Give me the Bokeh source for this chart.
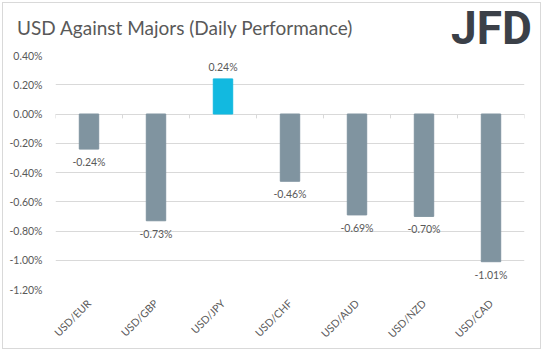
import math
from bokeh.plotting import figure
from bokeh.layouts import column
from bokeh.models import (ColumnDataSource, FixedTicker, PrintfTickFormatter, Range1d, Div)
from bokeh.core.properties import value
from bokeh.embed import file_html
from bokeh.resources import INLINE

pairs = ["USD/EUR", "USD/GBP", "USD/JPY", "USD/CHF", "USD/AUD", "USD/NZD", "USD/CAD"]
changes = [-0.24, -0.73, 0.24, -0.46, -0.69, -0.70, -1.01]
y_ticks = [-1.2, -1.0, -0.8, -0.6, -0.4, -0.2, 0.0, 0.2, 0.4]
title_text = "USD Against Majors (Daily Performance)"
logo_text = "JFD"

POS = "#12B9E0"
NEG = "#8094A0"
TXT = "#595959"
GRID = "#D9D9D9"
W = 537

# ---- header: title and logo as real text ----
header_html = (
    '<div style="position:relative;width:%dpx;height:42px;overflow:visible;">'
    '<span style="position:absolute;left:14px;top:15px;white-space:nowrap;'
    'font-family:Lato;font-size:19px;line-height:19px;color:%s;">%s</span>'
    '<span style="position:absolute;left:448px;top:2px;white-space:nowrap;'
    'font-family:Roboto;font-weight:bold;font-size:46px;line-height:46px;'
    'color:#3B4048;">%s</span></div>' % (W, TXT, title_text, logo_text)
)
head = Div(text=header_html, width=W, height=42, margin=0)

# ---- main chart ----
src = ColumnDataSource(dict(
    pair=pairs,
    change=changes,
    color=[POS if v > 0 else NEG for v in changes],
    label=["%.2f%%" % v for v in changes],
    base=["bottom" if v > 0 else "top" for v in changes],
    yoff=[-6 if v > 0 else 7 for v in changes],
))

p = figure(x_range=pairs, y_range=Range1d(-1.2, 0.4), width=W, height=303,
           output_backend="svg", toolbar_location=None,
           min_border_left=52, min_border_right=16, min_border_top=10,
           min_border_bottom=59, margin=0)
p.outline_line_color = None

p.vbar(x="pair", top="change", bottom=0, width=0.29, color="color", source=src)
p.text(x="pair", y="change", text="label", text_baseline="base", y_offset="yoff",
       text_align="center", text_font_size="10.5px", text_color=TXT,
       text_font=value("Lato"), source=src)

bounds_x = [(c, -0.5) for c in pairs] + [(pairs[-1], 0.5)]
p.segment(x0=bounds_x, x1=bounds_x, y0=[0] * len(bounds_x),
          y1=[-0.03] * len(bounds_x), line_color=GRID, line_width=1)

p.yaxis.ticker = FixedTicker(ticks=y_ticks)
p.yaxis.formatter = PrintfTickFormatter(format="%.2f%%")
p.yaxis.axis_line_color = None
p.yaxis.major_tick_line_color = None
p.yaxis.minor_tick_line_color = None
p.yaxis.major_label_standoff = 7
p.yaxis.major_label_text_font_size = "10.5px"
p.yaxis.major_label_text_color = TXT
p.yaxis.major_label_text_font = "Lato"

p.xaxis.axis_line_color = None
p.xaxis.major_tick_line_color = None
p.xaxis.minor_tick_line_color = None
p.xaxis.major_label_orientation = math.pi / 4
p.xaxis.major_label_standoff = 6
p.xaxis.major_label_text_font_size = "10.5px"
p.xaxis.major_label_text_color = TXT
p.xaxis.major_label_text_font = "Lato"

p.xgrid.grid_line_color = None
p.ygrid.grid_line_color = GRID
p.ygrid.ticker = FixedTicker(ticks=y_ticks)

layout = column(head, p, spacing=0, margin=(2, 2, 2, 2),
                styles={"border": "1px solid #D9D9D9"})

open("out.html", "w").write(file_html(layout, INLINE))
